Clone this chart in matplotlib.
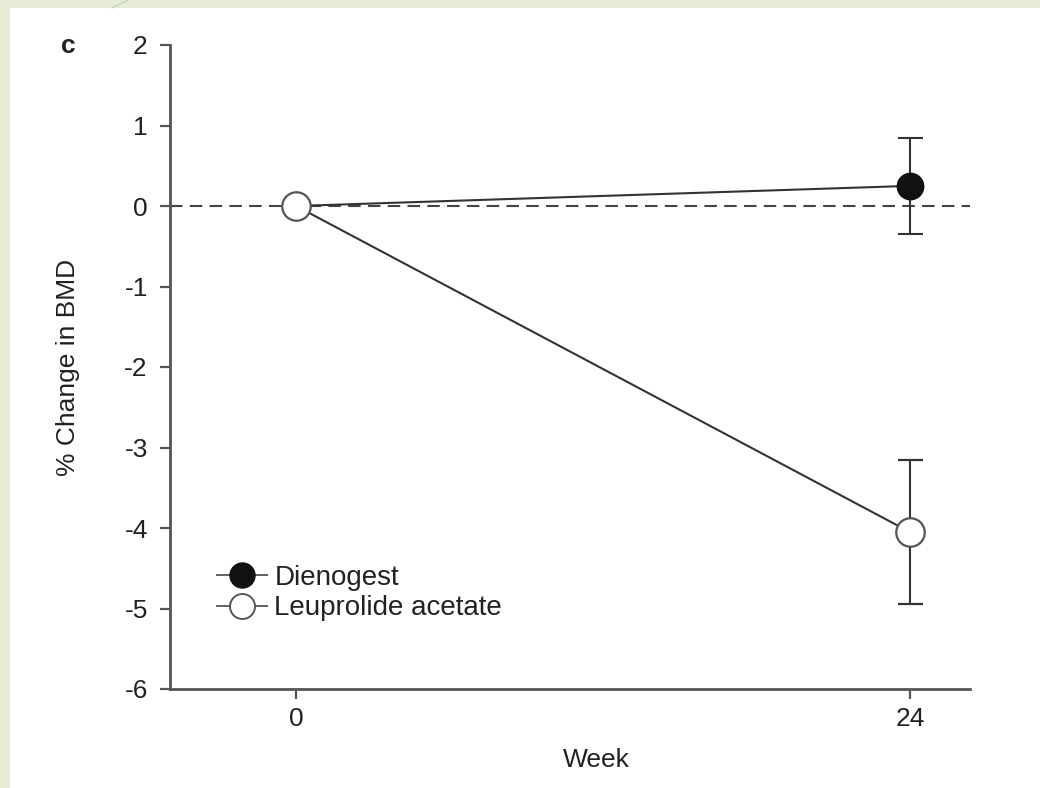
import numpy as np
import matplotlib.pyplot as plt
from matplotlib.patches import Rectangle
from matplotlib.lines import Line2D

#---------------------- data ----------------------
weeks = [0, 24]
dienogest = [0.0, 0.25]
dienogest_err = [0.0, 0.60]
leuprolide = [0.0, -4.05]
leuprolide_err = [0.0, 0.90]
series_names = ["Dienogest", "Leuprolide acetate"]
x_ticks = [0, 24]
y_ticks = [2, 1, 0, -1, -2, -3, -4, -5, -6]

plt.rcParams['font.family'] = ['Liberation Sans', 'DejaVu Sans']
plt.rcParams['axes.unicode_minus'] = False
ink = '#333333'
txt = '#222222'

fig = plt.figure(figsize=(10.4, 7.88), dpi=100, facecolor='#e6ecd6')
# white slide panel
fig.patches.append(Rectangle((10/1040, 0), 1, 1 - 8/788, transform=fig.transFigure,
                             facecolor='white', edgecolor='none', zorder=-2))
fig.lines.append(Line2D([128/1040, 112/1040], [1, 1 - 8/788], transform=fig.transFigure,
                        color='#c9d2b4', lw=1, zorder=-1))

ax = fig.add_axes([170/1040, 1 - 689/788, 800/1040, 644/788])
ax.set_zorder(2)
ax.set_facecolor('none')

ax.axhline(0, color='#444444', lw=1.5, ls=(0, (6, 3.5)), zorder=1)

ax.errorbar(weeks, dienogest, yerr=dienogest_err, color=ink, lw=1.5, capsize=9,
            elinewidth=1.5, capthick=1.5, marker='o', ms=19, mfc='#111111', mec='#111111',
            zorder=3)
ax.errorbar(weeks, leuprolide, yerr=leuprolide_err, color=ink, lw=1.5, capsize=9,
            elinewidth=1.5, capthick=1.5, marker='o', ms=20.5, mfc='white', mec='#555555',
            mew=1.6, zorder=4)

ax.set_xlim(-4.93, 26.35)
ax.set_ylim(-6, 2)
ax.set_xticks(x_ticks)
ax.set_yticks(y_ticks)
ax.spines['top'].set_visible(False)
ax.spines['right'].set_visible(False)
for s in ['left', 'bottom']:
    ax.spines[s].set_color('#555555')
    ax.spines[s].set_linewidth(2)
ax.tick_params(colors='#555555', labelcolor=txt, labelsize=19, width=1.6, length=7,
               direction='out')
ax.tick_params(axis='y', pad=9)
ax.tick_params(axis='x', pad=6)

ax.set_ylabel('% Change in BMD', fontsize=19, color=txt, labelpad=32)
ax.set_xlabel('Week', fontsize=19, color=txt, labelpad=12, x=(596 - 170) / 800)
fig.text(68/1040, 1 - 46/788, 'c', fontsize=19, fontweight='bold', color=txt,
         ha='center', va='center')

handles = [Line2D([], [], color='#555555', lw=1.3, marker='o', ms=18, mfc='#111111',
                  mec='#111111'),
           Line2D([], [], color='#555555', lw=1.3, marker='o', ms=18, mfc='white',
                  mec='#555555', mew=1.4)]
ax.legend(handles, series_names, loc='lower left', bbox_to_anchor=(0.035, 0.075),
          frameon=False, fontsize=20, handlelength=1.8, handletextpad=0.25,
          labelspacing=0.15, labelcolor=txt, borderpad=0.2)

fig.savefig('out.png', dpi=100, facecolor=fig.get_facecolor())
